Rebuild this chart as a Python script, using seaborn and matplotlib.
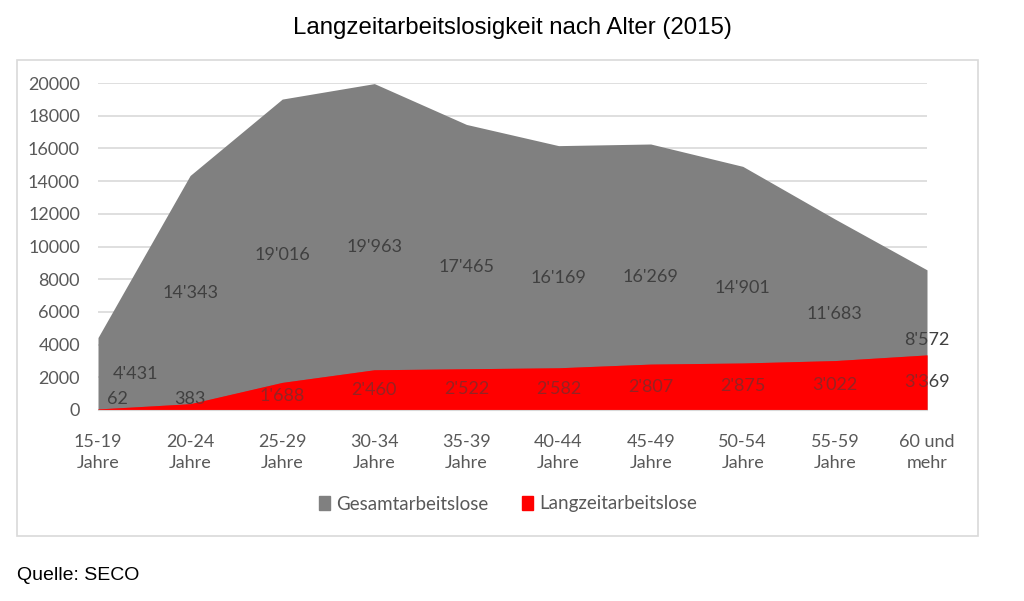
import matplotlib
matplotlib.use("Agg")
import matplotlib.pyplot as plt
import seaborn as sns
from matplotlib.patches import Rectangle

# Data (SECO, 2015)
age_groups = ["15-19\nJahre", "20-24\nJahre", "25-29\nJahre", "30-34\nJahre", "35-39\nJahre",
              "40-44\nJahre", "45-49\nJahre", "50-54\nJahre", "55-59\nJahre", "60 und\nmehr"]
total = [4431, 14343, 19016, 19963, 17465, 16169, 16269, 14901, 11683, 8572]
longterm = [62, 383, 1688, 2460, 2522, 2582, 2807, 2875, 3022, 3369]
y_ticks = [0, 2000, 4000, 6000, 8000, 10000, 12000, 14000, 16000, 18000, 20000]

GRAY = "#808080"
RED = "#FF0000"
TXT = "#595959"
LBL = "#404040"

sns.set_style("white")
plt.rcParams["font.family"] = ["Lato", "DejaVu Sans"]

fig = plt.figure(figsize=(10.24, 6.01), dpi=100)
ax = fig.add_axes([98 / 1024, 1 - 410 / 601, (927 - 98) / 1024, (410 - 83) / 601])

x = list(range(len(age_groups)))
sns.lineplot(x=x, y=total, ax=ax, color=GRAY, linewidth=0)
sns.lineplot(x=x, y=longterm, ax=ax, color=RED, linewidth=0)
ax.fill_between(x, total, color=GRAY, linewidth=0, zorder=2)
ax.fill_between(x, longterm, color=RED, linewidth=0, zorder=3)
# translucent copy above the labels: text on the red area turns dark red
ax.fill_between(x, longterm, color=RED, linewidth=0, alpha=0.45, zorder=6)

ax.set_xlim(0, len(age_groups) - 1)
ax.set_ylim(0, 20000)
ax.set_yticks(y_ticks)
ax.set_yticklabels([str(t) for t in y_ticks], fontsize=13, color=TXT)
ax.set_xticks(x)
ax.set_xticklabels(age_groups, fontsize=13, color=TXT, linespacing=1.4)
ax.tick_params(axis="y", length=0, pad=13)
ax.tick_params(axis="x", length=5, color="#BFBFBF", pad=12, direction="out")
ax.grid(axis="y", color="#D9D9D9", linewidth=1.2, zorder=0)
ax.set_axisbelow(True)
for side in ["top", "right", "left"]:
    ax.spines[side].set_visible(False)
ax.spines["bottom"].set_color("#D9D9D9")
ax.spines["bottom"].set_zorder(7)


def fmt(v):
    return f"{v:,}".replace(",", "'")


# data labels in the middle of each area
for i, (t, l) in enumerate(zip(total, longterm)):
    ha = "center"
    xt, xl = i, i
    if i == 0:
        ha = "left"
        xt, xl = 0.16, 0.1
    ax.text(xt, t / 2, fmt(t), ha=ha, va="center", fontsize=13,
            color=LBL, zorder=5, clip_on=False)
    ax.text(xl, max(l / 2, 700), fmt(l), ha=ha, va="center", fontsize=13,
            color=LBL, zorder=5, clip_on=False)

# legend
handles = [Rectangle((0, 0), 1, 1, color=GRAY), Rectangle((0, 0), 1, 1, color=RED)]
fig.legend(handles, ["Gesamtarbeitslose", "Langzeitarbeitslose"], loc="center",
           bbox_to_anchor=(508 / 1024, 1 - 504 / 601), ncol=2, frameon=False,
           fontsize=13.5, labelcolor=TXT, handlelength=0.6, handleheight=0.75,
           handletextpad=0.3, columnspacing=1.8)

# chart frame
fig.patches.append(Rectangle((17 / 1024, 1 - 536 / 601), (978 - 17) / 1024, (536 - 60) / 601,
                             transform=fig.transFigure, fill=False, edgecolor="#D9D9D9",
                             linewidth=1.2, zorder=0))

fig.text(512 / 1024, 1 - 28 / 601, "Langzeitarbeitslosigkeit nach Alter (2015)",
         ha="center", va="center", fontsize=17.3, family="Liberation Sans", color="black")
fig.text(17 / 1024, 1 - 575 / 601, "Quelle: SECO", ha="left", va="center",
         fontsize=14, family="Liberation Sans", color="black")

fig.savefig("out.png", dpi=100)
